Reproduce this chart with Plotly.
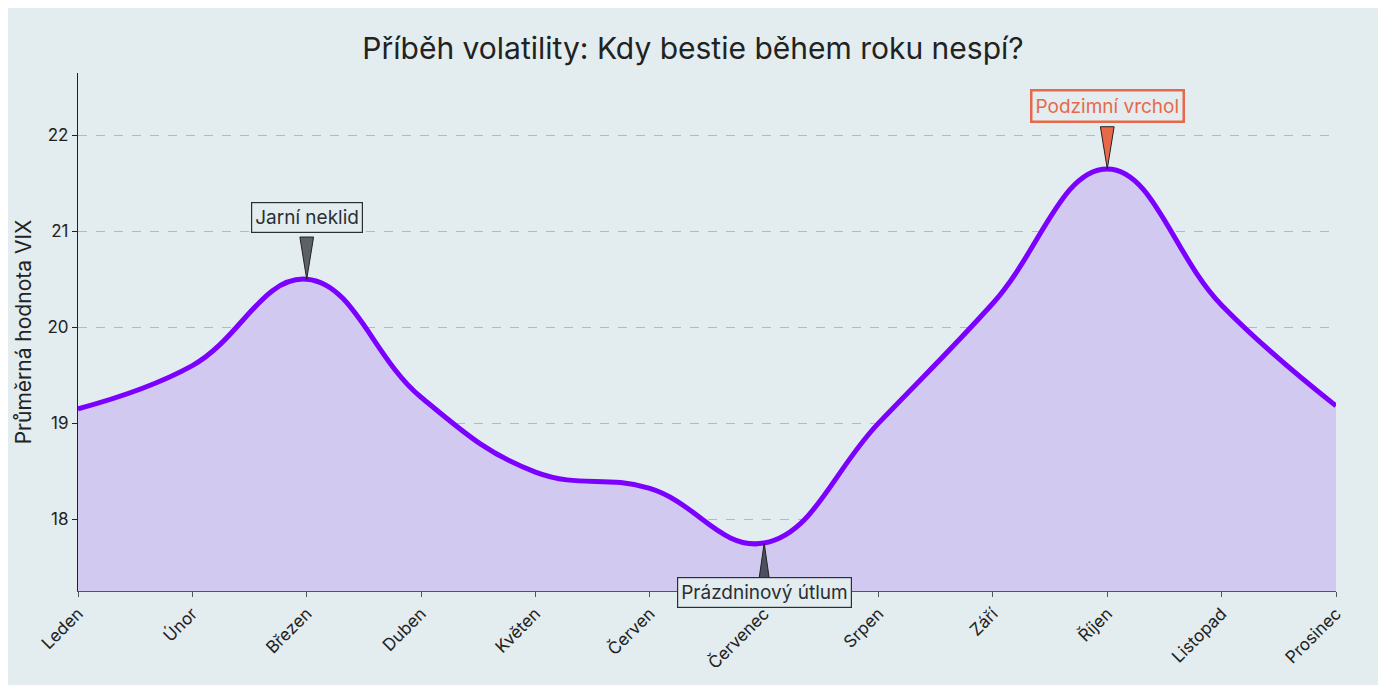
import plotly.graph_objects as go

# Monthly average VIX
months = ["Leden", "Únor", "Březen", "Duben", "Květen", "Červen",
          "Červenec", "Srpen", "Září", "Říjen", "Listopad", "Prosinec"]
vix = [19.15, 19.6, 20.5, 19.27, 18.49, 18.32,
       17.75, 19.0, 20.25, 21.65, 20.23, 19.18]

# (month index, label, text colour, wedge colour)
callouts = [
    (2, "Jarní neklid", "#2a2f35", "#5c6168"),
    (9, "Podzimní vrchol", "#e8694a", "#e8694a"),
    (6, "Prázdninový útlum", "#2a2f35", "#4b4f60"),
]

BG = "#e3ecee"
LINE = "#7b00ff"
FILL = "#d2c9f0"
FONT = "Inter, sans-serif"

x_idx = list(range(len(months)))
y_min, y_max = 17.25, 22.65

fig = go.Figure()
fig.add_trace(go.Scatter(
    x=x_idx, y=[y_min] * len(x_idx),
    mode="lines", line=dict(width=0), hoverinfo="skip", showlegend=False,
))
fig.add_trace(go.Scatter(
    x=x_idx, y=vix,
    mode="lines",
    line=dict(color=LINE, width=5, shape="spline", smoothing=1.2),
    fill="tonexty", fillcolor=FILL,
    showlegend=False,
))

# wedge pointers + boxed labels
for i, label, txt_col, wedge_col in callouts:
    v = vix[i]
    below = i == 6
    base = y_min if below else v + 0.44
    path = f"M {i - 0.06},{base} L {i + 0.06},{base} L {i},{v} Z"
    fig.add_shape(type="path", path=path, xref="x", yref="y",
                  fillcolor=wedge_col, line=dict(color="#222222", width=1),
                  layer="above")
    orange = txt_col != "#2a2f35"
    box = dict(text=label, showarrow=False,
               font=dict(family=FONT, size=19, color=txt_col),
               bgcolor=BG, bordercolor=txt_col,
               borderwidth=2.5 if orange else 1.2, borderpad=3)
    if below:
        fig.add_annotation(x=i, y=-0.033, xref="x", yref="paper", **box)
    else:
        fig.add_annotation(x=i, y=base + 0.04, xref="x", yref="y",
                           yanchor="bottom", **box)

fig.update_layout(
    width=1370, height=677,
    paper_bgcolor=BG, plot_bgcolor=BG,
    margin=dict(l=70, r=42, t=65, b=94),
    title=dict(text="Příběh volatility: Kdy bestie během roku nespí?",
               x=0.5, y=0.955, xanchor="center",
               font=dict(family=FONT, size=30, color="#222222")),
    font=dict(family=FONT, size=17, color="#222222"),
)
fig.update_xaxes(
    range=[0, len(months) - 1],
    tickmode="array", tickvals=x_idx, ticktext=months,
    tickangle=-45, ticks="outside", ticklen=5, tickcolor="#555555",
    showline=True, linecolor="#555555", linewidth=1.2,
    showgrid=False, zeroline=False,
    tickfont=dict(family=FONT, size=17),
)
fig.update_yaxes(
    range=[y_min, y_max],
    tickvals=[18, 19, 20, 21, 22],
    ticks="outside", ticklen=5, tickcolor="#222222",
    showline=True, linecolor="#222222", linewidth=1.2,
    showgrid=True, gridcolor="#b5b9bb", griddash="dash", gridwidth=1,
    zeroline=False,
    title=dict(text="Průměrná hodnota VIX", font=dict(family=FONT, size=21),
               standoff=10),
    tickfont=dict(family=FONT, size=17),
)

fig.write_html("out.html")
